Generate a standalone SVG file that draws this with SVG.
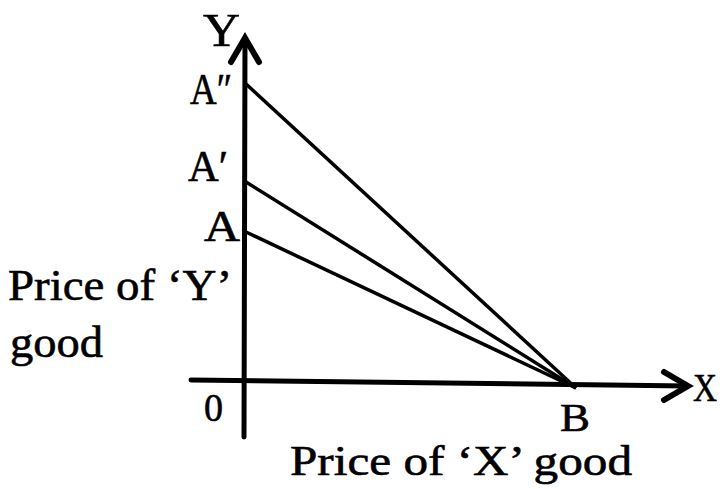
<svg xmlns="http://www.w3.org/2000/svg" width="722" height="489" viewBox="0 0 722 489">
<style>
.t{font-family:"Liberation Serif","Times New Roman",serif;fill:#000;stroke:#000;stroke-width:0.6;}
.ax{stroke:#000;stroke-width:5;fill:none;stroke-linecap:round;}
.ln{stroke:#000;stroke-width:3.5;fill:none;}
.hd{stroke:#000;stroke-width:6;fill:none;stroke-linecap:round;stroke-linejoin:miter;}
</style>
<rect width="722" height="489" fill="#fff"/>
<g id="axes">
<line class="ax" x1="244" y1="437" x2="245" y2="40"/>
<polyline class="hd" points="231,62 245,38 259,62"/>
<line class="ax" x1="191" y1="380" x2="688" y2="386"/>
<polyline class="hd" points="664,372 688,386 664,400"/>
</g>
<g id="connectors">
<line class="ln" x1="246" y1="84" x2="576" y2="388"/>
<line class="ln" x1="246" y1="182" x2="576" y2="388"/>
<line class="ln" x1="246" y1="232" x2="576" y2="388"/>
</g>
<g id="labels">
<text class="t" x="203" y="46" font-size="46" textLength="37" lengthAdjust="spacingAndGlyphs">Y</text>
<text class="t" x="190" y="104" font-size="44" textLength="42" lengthAdjust="spacingAndGlyphs">A″</text>
<text class="t" x="188" y="181" font-size="44" textLength="40" lengthAdjust="spacingAndGlyphs">A′</text>
<text class="t" x="204" y="241" font-size="44" textLength="36" lengthAdjust="spacingAndGlyphs">A</text>
<text class="t" x="8" y="300" font-size="44" textLength="224" lengthAdjust="spacingAndGlyphs">Price of ‘Y’</text>
<text class="t" x="10" y="357" font-size="44" textLength="93" lengthAdjust="spacingAndGlyphs">good</text>
<text class="t" x="204" y="421" font-size="40" textLength="19" lengthAdjust="spacingAndGlyphs">0</text>
<text class="t" x="560" y="431" font-size="40" textLength="30" lengthAdjust="spacingAndGlyphs">B</text>
<text class="t" x="693" y="401" font-size="40" textLength="24" lengthAdjust="spacingAndGlyphs">X</text>
<text class="t" x="290" y="475" font-size="42" textLength="342" lengthAdjust="spacingAndGlyphs">Price of ‘X’ good</text>
</g>
</svg>
